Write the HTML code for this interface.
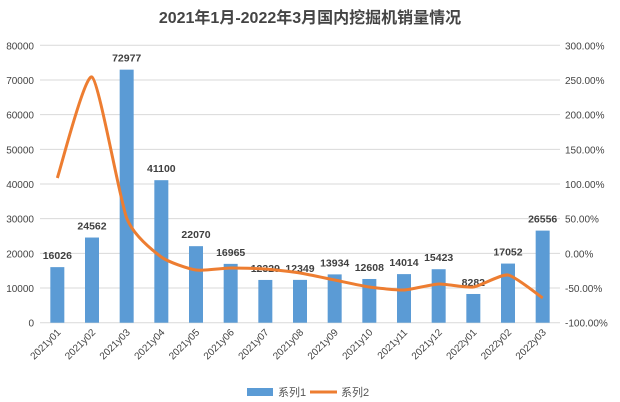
<!DOCTYPE html>
<html><head><meta charset="utf-8"><style>
body{margin:0;background:#fff;}
svg{display:block;font-family:"Liberation Sans","Noto Sans CJK SC",sans-serif;}
</style></head><body>
<svg id="s" width="620" height="402" viewBox="0 0 620 402" xmlns="http://www.w3.org/2000/svg">
<text x="310" y="23" text-anchor="middle" font-size="16" font-weight="bold" fill="#444">2021年1月-2022年3月国内挖掘机销量情况</text>
<g id="g"></g>
<rect x="247" y="388" width="26" height="8" fill="#5B9BD5"/>
<text x="278" y="396" font-size="11" fill="#555">系列1</text>
<line x1="310" y1="392" x2="337" y2="392" stroke="#ED7D31" stroke-width="3"/>
<text x="341" y="396" font-size="11" fill="#555">系列2</text>
</svg>
<script>
(function(){
var g=document.getElementById('g'),h='';
var yTop=45.3,bot=322.7,L=40,R=560,n=15,w=(R-L)/n;
for(var i=0;i<=8;i++){var y=bot-i*(bot-yTop)/8;
h+='<line x1="'+L+'" x2="'+R+'" y1="'+y+'" y2="'+y+'" stroke="#d9d9d9" stroke-width="1"/>';
h+='<text x="34" y="'+(y+4)+'" text-anchor="end" font-size="10" fill="#444">'+(i*10000)+'</text>';
h+='<text x="565" y="'+(y+4)+'" font-size="10" fill="#444">'+((i*50-100).toFixed(2))+'%</text>';}
var v=[16026,24562,72977,41100,22070,16965,12329,12349,13934,12608,14014,15423,8282,17052,26556];
var lab=['2021y01','2021y02','2021y03','2021y04','2021y05','2021y06','2021y07','2021y08','2021y09','2021y10','2021y11','2021y12','2022y01','2022y02','2022y03'];
var ly=[178,77,218,257,270,268,269,273,280,287,290,284,287,275,298];
var pts=[];
for(var i=0;i<n;i++){var cx=L+w/2+i*w,y=bot-v[i]/80000*(bot-yTop);
h+='<rect x="'+(cx-7)+'" y="'+y+'" width="14" height="'+(bot-y)+'" fill="#5B9BD5"/>';
h+='<text x="'+cx+'" y="'+(y-8)+'" text-anchor="middle" font-size="10.5" font-weight="bold" fill="#404040">'+v[i]+'</text>';
h+='<text transform="translate('+(cx+4)+',333) rotate(-45)" text-anchor="end" font-size="10" fill="#444">'+lab[i]+'</text>';
pts.push([cx,ly[i]]);}
var d='M'+pts[0][0]+','+pts[0][1];
for(var i=0;i<n-1;i++){var p0=pts[Math.max(i-1,0)],p1=pts[i],p2=pts[i+1],p3=pts[Math.min(i+2,n-1)],t=0.1;
d+=' C'+(p1[0]+(p2[0]-p0[0])*t)+','+(p1[1]+(p2[1]-p0[1])*t)+' '+(p2[0]-(p3[0]-p1[0])*t)+','+(p2[1]-(p3[1]-p1[1])*t)+' '+p2[0]+','+p2[1];}
h+='<path d="'+d+'" fill="none" stroke="#ED7D31" stroke-width="3" stroke-linejoin="round"/>';
g.innerHTML=h;
})();
</script>
</body></html>
